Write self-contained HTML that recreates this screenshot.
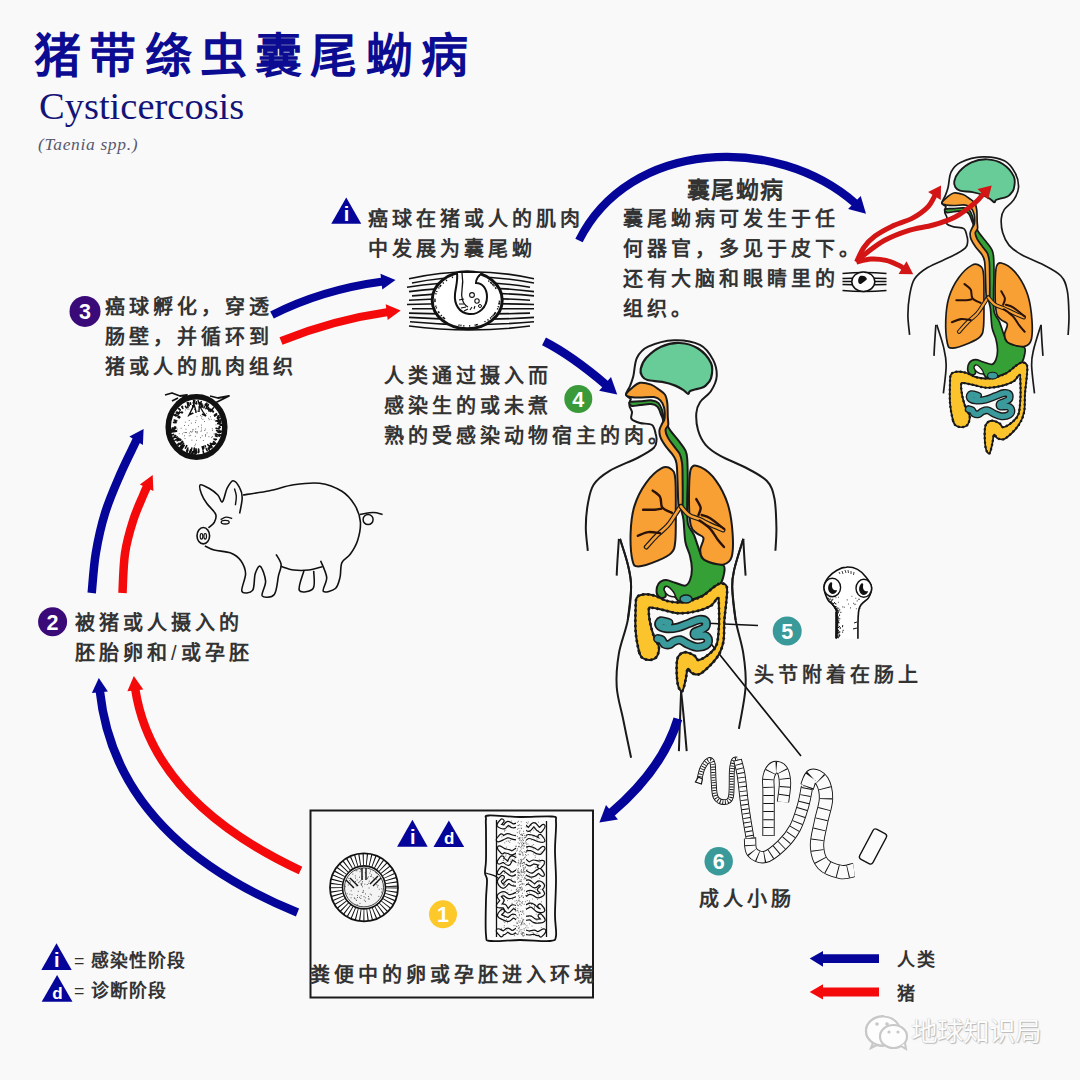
<!DOCTYPE html>
<html lang="zh-CN"><head><meta charset="utf-8">
<style>
html,body{margin:0;padding:0;}
body{width:1080px;height:1080px;background:#f9f9f9;position:relative;overflow:hidden;font-family:"Liberation Sans",sans-serif;}
.t{position:absolute;white-space:nowrap;color:#333;font-weight:700;font-size:20px;letter-spacing:4px;line-height:30px;}
#title{position:absolute;left:34px;top:25.5px;font-size:47px;font-weight:700;color:#0c0c92;letter-spacing:8.3px;line-height:60px;white-space:nowrap;}
#en{position:absolute;left:39px;top:86px;font-family:"Liberation Serif",serif;font-size:38.5px;color:#141478;line-height:40px;white-space:nowrap;}
#sp{position:absolute;left:38px;top:133.5px;font-family:"Liberation Serif",serif;font-style:italic;font-size:17.5px;letter-spacing:0.65px;color:#585a70;line-height:20px;white-space:nowrap;}
svg{position:absolute;left:0;top:0;}
</style></head><body>
<svg width="1080" height="1080" viewBox="0 0 1080 1080">
<defs><g id="htop"><path d="M587.8 550.8C587.5 546.9 585.8 535.3 585.8 527.5C585.8 519.7 586.5 511.3 587.8 504.2C589.1 497.1 590 490.2 593.6 484.7C597.2 479.2 601.8 475.6 609.2 471.1C616.7 466.6 630.8 461.4 638.3 457.5C645.8 453.6 650.9 450.7 653.9 447.8C656.9 444.9 656.2 442.4 656.5 440C656.8 437.6 656.4 436.2 655.6 433.7C654.9 431.2 654.6 426.8 652 425C649.4 423.2 643.4 424 640 423C636.6 422 632.8 420.7 631.5 418.9C630.2 417.1 632.3 414.1 632 412C631.7 409.9 629.8 407.8 629.5 406C629.2 404.2 629.8 402.2 630 401C630.2 399.8 631.3 399.5 630.6 398.5C629.9 397.5 626 396.9 625.9 394.8C625.8 392.7 628.8 389.1 630 386C631.2 382.9 632.1 381 633.3 376.3C634.5 371.6 634.5 362.7 637 357.8C639.5 352.9 641.9 349.6 648.1 346.7C654.3 343.8 665.4 340.5 674 340.2C682.6 339.9 693.5 341.6 700 344.8C706.5 348 710.2 354.4 713 359.6C715.8 364.9 717 371.1 716.7 376.3C716.4 381.5 713.8 386.7 711 391C708.2 395.3 702.5 398.5 700 402.2C697.5 405.9 696.6 408.7 696.3 413.3C696 417.9 696.5 424.8 698 430C699.5 435.2 701.9 440.5 705.6 444.8C709.3 449.1 713.9 452.2 720.4 455.9C726.9 459.6 736.7 462.9 744.4 467C752.1 471.1 761.7 475.6 766.7 480.8C771.7 486 772.8 490.5 774.4 498.3C776 506.1 776.2 518.8 776.4 527.5C776.6 536.2 775.6 546.9 775.4 550.8" fill="none" stroke="#1a1a1a" stroke-width="2"/>
<path d="M640.7 368.9C641.4 365.9 642.9 361.5 646.3 357.8C649.7 354.1 655.5 349.2 661.1 346.7C666.7 344.2 673.4 342.7 679.6 343C685.8 343.3 692.9 345.1 698.1 348.5C703.4 351.9 708.9 358.4 711.1 363.3C713.3 368.2 712 374.4 711.1 378.1C710.2 381.8 707.5 383.9 705.6 385.6C703.8 387.3 701.7 387.7 700 388.3C698.3 388.9 697.3 388.8 695.6 389.3C693.9 389.8 691.2 390.3 690 391.1C688.8 391.9 689.2 394 688.1 393.9C687 393.8 685.6 391.6 683.5 390.2C681.4 388.8 678.8 387 675.2 385.6C671.7 384.2 666.8 382.8 662.2 381.9C657.6 381 650.8 381 647.4 380C644 379 643.1 377.9 642 376C640.9 374.1 640 371.9 640.7 368.9Z" fill="#68cc98" stroke="#1a1a1a" stroke-width="2.2"/>
<path d="M629.6 402C630.9 401.2 636.3 401.6 640 401.3C643.7 401 648.9 400.1 652 400.4C655.1 400.7 656.8 401.4 658.5 403.1C660.2 404.8 661.3 408 662.2 410.6C663.1 413.2 663 416.7 663.8 419C664.6 421.3 665.8 422.4 666.9 424.4C668 426.4 668.6 428.1 670.6 430.9C672.6 433.7 676.4 437.9 678.9 441.1C681.4 444.4 684 447.5 685.4 450.4C686.8 453.3 686.8 453.8 687.2 458.7C687.6 463.6 687.7 473.1 687.7 480C687.7 486.9 687.2 492.7 687.2 500C687.2 507.3 686.8 517.8 687.9 523.6C689 529.4 692 530.1 694 535C696 539.9 698.7 549.1 700.2 553.1C701.7 557.1 701 557.1 703 558.7C705 560.4 708.6 561.9 712 563C715.4 564.1 721.2 563.7 723.3 565.2C725.3 566.7 724.8 568.9 724.3 572C723.8 575.1 722.6 580.5 720.6 583.7C718.6 586.9 716.4 588.6 712.2 591.1C708 593.6 701 596.8 695.6 598.5C690.2 600.2 683.2 601.6 679.8 601.3C676.4 601 676.9 598.4 675.2 596.7C673.5 595 671.2 592 669.6 591.1C668 590.2 666.6 590.2 665.9 591.1C665.2 592 666.4 595.6 665.5 596.7C664.6 597.8 661.9 598.2 660.4 597.6C658.9 597 657 595.3 656.7 593C656.4 590.7 657 585.9 658.5 583.7C660 581.5 663.1 580.1 665.9 580C668.7 579.9 672 581.9 675.2 582.8C678.5 583.7 682.9 586.1 685.4 585.6C687.9 585.1 688.9 582.8 690 580C691.1 577.2 691.9 572.9 691.9 568.9C691.9 564.9 691.1 560.4 690 555.9C688.9 551.4 686.5 548 685.4 542C684.3 536 684.2 525.7 683.5 520C682.8 514.3 681.6 513 681 508C680.4 503 680.2 494.7 680 490C679.8 485.3 680.1 484.4 680 480C679.9 475.6 679.9 467.6 679.5 463.3C679.1 459 678.8 457.2 677.5 454.1C676.2 451 674 447.7 672 444.8C670 441.9 667.3 439 665.6 436.5C663.9 434 662.4 432.6 662 430C661.6 427.4 663.2 423.2 663.1 420.7C663 418.2 662.2 417.5 661.3 415.2C660.4 412.9 659.3 408.8 657.6 406.9C655.9 405 654 404.4 651.1 404.1C648.2 403.8 643.2 404.7 640 405C636.8 405.3 633.7 406.5 632 406C630.3 405.5 628.3 402.8 629.6 402Z" fill="#35a035" stroke="#1a1a1a" stroke-width="2"/>
<path d="M626 394.5C626.2 393 629.7 389.9 632 388C634.3 386.1 636.8 383.4 640 382.8C643.2 382.2 648 383.5 651.1 384.6C654.2 385.7 656.2 387.6 658.5 389.3C660.8 391 663.5 392.5 665 394.8C666.5 397.1 666.8 399.4 667.3 403.1C667.8 406.8 667.6 413.4 667.8 417C667.9 420.6 668.6 422.8 668.2 425C667.8 427.2 665.6 427.9 665.5 430C665.4 432.1 666.3 434.6 667.8 437.4C669.3 440.2 672.3 443.9 674.3 446.7C676.3 449.5 678.5 451.3 679.8 454.1C681.1 456.9 681.6 459 682.1 463.3C682.6 467.6 682.5 472.9 682.6 480C682.7 487.1 682.9 501.3 682.5 506C682.1 510.7 681.2 508 680.5 508C679.8 508 679 510.7 678.5 506C678 501.3 677.8 487.1 677.5 480C677.2 472.9 677.2 467.3 676.5 463.3C675.8 459.3 675.2 458.7 673.5 455.9C671.8 453.1 668.2 449.8 666 446.7C663.8 443.6 661.6 440.2 660.5 437.4C659.4 434.6 659.2 432.3 659.5 430C659.8 427.7 661.4 425.4 662.2 423.5C663 421.6 664.2 421.5 664.5 418.9C664.8 416.3 664.8 410.9 664.1 407.8C663.4 404.7 662.1 402.2 660.4 400.4C658.7 398.6 657.3 397.6 653.9 397.1C650.5 396.6 643.8 397.6 640 397.6C636.2 397.6 633.3 397.5 631 397C628.7 396.5 625.8 396 626 394.5Z" fill="#f9a034" stroke="#1a1a1a" stroke-width="2"/>
<path d="M671.4 469.2C669.1 467.4 665.9 465.9 661.7 468.2C657.5 470.5 650.7 476.5 646.1 482.8C641.5 489.1 637 497.7 634.4 506.1C631.8 514.5 630.9 524.2 630.6 533.3C630.3 542.4 631.2 555.1 632.5 560.6C633.8 566.1 634.1 566.4 638.3 566.4C642.5 566.4 652.3 562.9 657.8 560.6C663.3 558.3 668.5 556 671.4 552.8C674.3 549.5 674.6 548.2 675.3 541.1C676 534 675.8 520.4 675.8 510C675.8 499.6 676 485.7 675.3 478.9C674.6 472.1 673.7 471 671.4 469.2Z" fill="#f9a034" stroke="#1a1a1a" stroke-width="2"/>
<path d="M690.8 469.2C692.7 463.7 696.4 465.3 700.6 467.2C704.8 469.1 711.6 474.6 716.1 480.8C720.6 487 725 495.4 727.8 504.2C730.5 512.9 732 524.5 732.6 533.3C733.2 542 733.2 551.5 731.7 556.7C730.2 561.9 727.2 563.4 723.9 564.4C720.6 565.4 715.5 564 712 563C708.5 562 705 560.9 703 558.7C701 556.5 700.1 553.5 700.2 550C700.3 546.5 704.1 540.8 703.5 538C702.9 535.2 698.8 535.4 696.7 533.3C694.6 531.2 692.1 531.1 690.8 525.6C689.5 520.1 689 509.4 689 500C689 490.6 688.9 474.7 690.8 469.2Z" fill="#f9a034" stroke="#1a1a1a" stroke-width="2"/>
<path d="M680.4 506.5C679.5 507.9 677.1 511.8 675 515C672.9 518.2 670.6 522.3 667.6 525.7C664.6 529.1 660.5 531.8 657 535.3C653.5 538.8 648.1 545 646.3 547" fill="none" stroke="#1a1a1a" stroke-width="5" stroke-linecap="round"/>
<path d="M680.4 506.5C679.5 507.9 677.1 511.8 675 515C672.9 518.2 670.6 522.3 667.6 525.7C664.6 529.1 660.5 531.8 657 535.3C653.5 538.8 648.1 545 646.3 547" fill="none" stroke="#f9a034" stroke-width="2.6" stroke-linecap="round"/>
<path d="M681 506.5C682.3 507.9 685.8 512.9 688.9 515C692 517.1 696 517.7 699.5 519.3C703 520.9 706.3 522.8 710.2 524.6C714.1 526.4 720.9 529.1 723 530" fill="none" stroke="#1a1a1a" stroke-width="5" stroke-linecap="round"/>
<path d="M681 506.5C682.3 507.9 685.8 512.9 688.9 515C692 517.1 696 517.7 699.5 519.3C703 520.9 706.3 522.8 710.2 524.6C714.1 526.4 720.9 529.1 723 530" fill="none" stroke="#f9a034" stroke-width="2.6" stroke-linecap="round"/>
<path d="M652.7 490.6C653.9 491.7 658.5 494.2 660.1 497C661.7 499.8 660.3 505 662.3 507.6C664.3 510.2 670.3 512 671.9 512.9" fill="none" stroke="#2a1208" stroke-width="2.4" stroke-linecap="round"/>
<path d="M643.1 509.7C645 509.7 651.8 509.9 654.8 509.7C657.8 509.5 660.1 508.9 661.2 508.7" fill="none" stroke="#2a1208" stroke-width="2.4" stroke-linecap="round"/>
<path d="M637.8 535.8C639.6 535.2 644.7 532.5 648.4 532.1C652.1 531.7 658.1 532.9 660.1 533.1" fill="none" stroke="#2a1208" stroke-width="2.4" stroke-linecap="round"/>
<path d="M696.3 499.1C697 500.5 700.2 505 700.6 507.6C701 510.2 698.9 513.8 698.5 515" fill="none" stroke="#2a1208" stroke-width="2.4" stroke-linecap="round"/>
<path d="M701.7 515C703.1 515.5 706.5 515.9 710.2 518.2C713.9 520.5 721.7 527.1 724 528.9" fill="none" stroke="#2a1208" stroke-width="2.4" stroke-linecap="round"/>
<path d="M699.5 520.4C701.3 521.8 707.2 525.7 710.2 528.9C713.2 532.1 715.3 536.5 717.6 539.5C719.9 542.5 722.9 545.8 724 547" fill="none" stroke="#2a1208" stroke-width="2.4" stroke-linecap="round"/>
<path d="M638.9 651.1C637.8 646.7 636.1 638.1 635.6 631.1C635.1 624.1 635.4 614.5 635.6 608.9C635.8 603.3 635.4 600.2 636.7 597.8C638 595.4 640.3 594.8 643.3 594.4C646.2 594 650.3 594.5 654.4 595.6C658.5 596.7 663 600 667.8 601.1C672.6 602.2 677.8 602.9 683.3 602.2C688.8 601.5 695.9 599.3 701.1 596.7C706.3 594.1 711.1 588.9 714.4 586.7C717.7 584.5 719 583.3 721.1 583.3C723.2 583.3 725.8 584.3 726.7 586.7C727.6 589.1 727.1 592.2 726.7 597.8C726.3 603.3 725 612.6 724.4 620C723.8 627.4 724.6 635.9 723.3 642.2C722 648.5 720.4 652.6 716.7 657.8C713 663 705.2 670.7 701.1 673.3C697 675.9 694.4 674 692.2 673.3C690 672.6 688.9 667.8 687.8 668.9C686.7 670 686.5 676.3 685.6 680C684.7 683.7 683.5 690.4 682.2 691.1C680.9 691.8 678.7 688.9 677.8 684.4C676.9 679.9 676.5 669.2 676.7 664.4C676.9 659.6 677.4 657.6 678.9 655.6C680.4 653.6 683 652.2 685.6 652.2C688.2 652.2 692.2 654.3 694.4 655.6C696.6 656.9 696.3 660.4 698.9 660C701.5 659.6 707 655.9 710 653.3C713 650.7 715.2 648.8 716.7 644.4C718.2 640 718.5 633 718.9 626.7C719.3 620.4 719.1 611.5 718.9 606.7C718.7 601.9 719.1 598 717.8 597.8C716.5 597.6 714.6 603.4 711.1 605.6C707.6 607.8 702.1 609.8 696.7 611.1C691.3 612.4 684.5 613.5 678.9 613.3C673.3 613.1 667.8 610.9 663.3 610C658.8 609.1 654.6 608 652.2 607.8C649.8 607.6 649.3 606.5 648.9 608.9C648.5 611.3 649.1 617.4 650 622.2C650.9 627 652.9 633.7 654.4 637.8C655.9 641.9 658.5 643.6 658.9 646.7C659.3 649.9 658.2 654.5 656.7 656.7C655.2 658.9 652.4 659.8 650 660C647.6 660.2 644.1 659.3 642.2 657.8C640.4 656.3 640 655.5 638.9 651.1Z" fill="#fbc42c" stroke="#1a1a1a" stroke-width="2"/>
<path d="M638.9 651.1C637.8 646.7 636.1 638.1 635.6 631.1C635.1 624.1 635.4 614.5 635.6 608.9C635.8 603.3 635.4 600.2 636.7 597.8C638 595.4 640.3 594.8 643.3 594.4C646.2 594 650.3 594.5 654.4 595.6C658.5 596.7 663 600 667.8 601.1C672.6 602.2 677.8 602.9 683.3 602.2C688.8 601.5 695.9 599.3 701.1 596.7C706.3 594.1 711.1 588.9 714.4 586.7C717.7 584.5 719 583.3 721.1 583.3C723.2 583.3 725.8 584.3 726.7 586.7C727.6 589.1 727.1 592.2 726.7 597.8C726.3 603.3 725 612.6 724.4 620C723.8 627.4 724.6 635.9 723.3 642.2C722 648.5 720.4 652.6 716.7 657.8C713 663 705.2 670.7 701.1 673.3C697 675.9 694.4 674 692.2 673.3C690 672.6 688.9 667.8 687.8 668.9C686.7 670 686.5 676.3 685.6 680C684.7 683.7 683.5 690.4 682.2 691.1C680.9 691.8 678.7 688.9 677.8 684.4C676.9 679.9 676.5 669.2 676.7 664.4C676.9 659.6 677.4 657.6 678.9 655.6C680.4 653.6 683 652.2 685.6 652.2C688.2 652.2 692.2 654.3 694.4 655.6C696.6 656.9 696.3 660.4 698.9 660C701.5 659.6 707 655.9 710 653.3C713 650.7 715.2 648.8 716.7 644.4C718.2 640 718.5 633 718.9 626.7C719.3 620.4 719.1 611.5 718.9 606.7C718.7 601.9 719.1 598 717.8 597.8C716.5 597.6 714.6 603.4 711.1 605.6C707.6 607.8 702.1 609.8 696.7 611.1C691.3 612.4 684.5 613.5 678.9 613.3C673.3 613.1 667.8 610.9 663.3 610C658.8 609.1 654.6 608 652.2 607.8C649.8 607.6 649.3 606.5 648.9 608.9C648.5 611.3 649.1 617.4 650 622.2C650.9 627 652.9 633.7 654.4 637.8C655.9 641.9 658.5 643.6 658.9 646.7C659.3 649.9 658.2 654.5 656.7 656.7C655.2 658.9 652.4 659.8 650 660C647.6 660.2 644.1 659.3 642.2 657.8C640.4 656.3 640 655.5 638.9 651.1Z" fill="none" stroke="#1a1a1a" stroke-width="2.9" stroke-dasharray="0.1 5" stroke-linecap="round"/>
<path d="M664 590C664 586 667 585 670 588C673 591 676 595 675 597C671 597 666 595 664 590Z" fill="#fbfbfb" stroke="#1a1a1a" stroke-width="1.6"/>
<ellipse cx="686" cy="599" rx="6" ry="4" fill="#3a9a9c" stroke="#1a1a1a" stroke-width="1.4"/>
<path d="M668.8 622.8C667.5 622.5 662.6 620.5 661 620.9C659.4 621.3 658.3 623.9 659.1 625.1C659.9 626.3 662.5 627.9 665.6 628.3C668.7 628.7 673.9 628.3 677.9 627.4C681.9 626.5 685.9 624.4 689.5 623.1C693.1 621.8 696.6 619.9 699.3 619.6C702 619.3 704.7 620 705.7 621.2C706.7 622.4 706.5 625.5 705.4 627C704.3 628.5 701.1 629.4 699.3 630.3C697.5 631.2 695.4 631.3 694.7 632.2C694.1 633.1 693.8 635 695.4 635.5C697 636 702.2 634.8 704.4 635.5C706.5 636.2 708.1 638.4 708.3 640C708.5 641.6 707.6 644 705.7 645.2C703.8 646.4 699.7 647.3 696.7 647.1C693.7 646.9 690.3 645.1 687.6 643.9C684.9 642.7 682.8 640.4 680.5 640C678.2 639.6 675.9 640.5 674 641.3C672.1 642 671 644.1 669.4 644.5C667.8 644.9 665.6 644.6 664.3 643.9C663 643.1 662.8 640.9 661.7 640C660.6 639.1 658.4 638.9 657.8 638.7" fill="none" stroke="#1a1a1a" stroke-width="9.4" stroke-linecap="round" stroke-linejoin="round"/>
<path d="M668.8 622.8C667.5 622.5 662.6 620.5 661 620.9C659.4 621.3 658.3 623.9 659.1 625.1C659.9 626.3 662.5 627.9 665.6 628.3C668.7 628.7 673.9 628.3 677.9 627.4C681.9 626.5 685.9 624.4 689.5 623.1C693.1 621.8 696.6 619.9 699.3 619.6C702 619.3 704.7 620 705.7 621.2C706.7 622.4 706.5 625.5 705.4 627C704.3 628.5 701.1 629.4 699.3 630.3C697.5 631.2 695.4 631.3 694.7 632.2C694.1 633.1 693.8 635 695.4 635.5C697 636 702.2 634.8 704.4 635.5C706.5 636.2 708.1 638.4 708.3 640C708.5 641.6 707.6 644 705.7 645.2C703.8 646.4 699.7 647.3 696.7 647.1C693.7 646.9 690.3 645.1 687.6 643.9C684.9 642.7 682.8 640.4 680.5 640C678.2 639.6 675.9 640.5 674 641.3C672.1 642 671 644.1 669.4 644.5C667.8 644.9 665.6 644.6 664.3 643.9C663 643.1 662.8 640.9 661.7 640C660.6 639.1 658.4 638.9 657.8 638.7" fill="none" stroke="#3a9a9c" stroke-width="6.2" stroke-linecap="round" stroke-linejoin="round"/></g><g id="harms"><path d="M618.9 538.9C618.7 542.4 617.9 553.9 617.5 560C617.1 566.1 616.8 573 616.7 575.6" fill="none" stroke="#1a1a1a" stroke-width="2"/>
<path d="M743.3 538.9C743.5 542.4 744.1 553.9 744.5 560C744.9 566.1 745.4 573 745.6 575.6" fill="none" stroke="#1a1a1a" stroke-width="2"/>
<path d="M620 538.9C621.3 543.1 625.9 556.4 627.8 564.4C629.6 572.4 631.1 577.4 631.1 586.7C631.1 596 628.3 614.5 627.8 620" fill="none" stroke="#1a1a1a" stroke-width="2"/>
<path d="M743.3 538.9C741.8 543.9 736.2 560.9 734.4 568.9C732.5 576.9 732 578.2 732.2 586.7C732.4 595.2 735 614.5 735.6 620" fill="none" stroke="#1a1a1a" stroke-width="2"/></g></defs>
<circle cx="85" cy="311.4" r="15.5" fill="#3a0a78"/><text x="85" y="319.2" text-anchor="middle" font-family="Liberation Sans" font-weight="700" font-size="21.5" fill="#fff">3</text>
<circle cx="52.6" cy="621.7" r="14.5" fill="#3a0a78"/><text x="52.6" y="629.5" text-anchor="middle" font-family="Liberation Sans" font-weight="700" font-size="21.5" fill="#fff">2</text>
<circle cx="578.3" cy="399" r="14" fill="#3a9a3a"/><text x="578.3" y="406.8" text-anchor="middle" font-family="Liberation Sans" font-weight="700" font-size="21.5" fill="#fff">4</text>
<circle cx="787.2" cy="631" r="14.5" fill="#3a9a9a"/><text x="787.2" y="638.8" text-anchor="middle" font-family="Liberation Sans" font-weight="700" font-size="21.5" fill="#fff">5</text>
<circle cx="718.7" cy="861.2" r="14.2" fill="#3a9a9a"/><text x="718.7" y="869.0" text-anchor="middle" font-family="Liberation Sans" font-weight="700" font-size="21.5" fill="#fff">6</text>
<circle cx="443" cy="914.3" r="14" fill="#fdc82a"/><text x="443" y="922.0999999999999" text-anchor="middle" font-family="Liberation Sans" font-weight="700" font-size="21.5" fill="#fff">1</text>
<path d="M331.25 223.75L346.25 197.5L361.25 223.75Z" fill="#05059a"/><text x="346.55" y="220.95" text-anchor="middle" font-family="Liberation Sans" font-weight="700" font-size="20" fill="#fff">i</text>
<path d="M397.1 846.8L412.4 819.7L427.7 846.8Z" fill="#05059a"/><text x="412.7" y="844.0" text-anchor="middle" font-family="Liberation Sans" font-weight="700" font-size="20" fill="#fff">i</text>
<path d="M433.5 847.1L448.85 820.4L464.2 847.1Z" fill="#05059a"/><text x="449.15000000000003" y="844.3000000000001" text-anchor="middle" font-family="Liberation Sans" font-weight="700" font-size="17" fill="#fff">d</text>
<path d="M41.3 970L56.5 943.3L71.7 970Z" fill="#05059a"/><text x="56.8" y="967.2" text-anchor="middle" font-family="Liberation Sans" font-weight="700" font-size="20" fill="#fff">i</text>
<path d="M41.7 1001.7L57.1 975L72.5 1001.7Z" fill="#05059a"/><text x="57.4" y="998.9000000000001" text-anchor="middle" font-family="Liberation Sans" font-weight="700" font-size="17" fill="#fff">d</text>
<rect x="310.5" y="810.5" width="282.5" height="187" fill="none" stroke="#1a1a1a" stroke-width="2"/>
<path d="M879 954.2H823V951L809.7 958.6L823 966.7V963H879Z" fill="#05059a"/>
<path d="M879 987.5H823V984.3L809.7 992L823 999.6V996.4H879Z" fill="#f40a0a"/>

<path d="M409 278.7Q471 264.7 534 278.7" fill="none" stroke="#111" stroke-width="1.6"/>
<path d="M412 283.0Q471 271.0 534 283.0" fill="none" stroke="#111" stroke-width="1.6"/>
<path d="M407 287.3Q471 277.3 530 287.3" fill="none" stroke="#111" stroke-width="1.6"/>
<path d="M409 291.6Q471 283.6 534 291.6" fill="none" stroke="#111" stroke-width="1.6"/>
<path d="M412 295.9Q471 289.9 534 295.9" fill="none" stroke="#111" stroke-width="1.6"/>
<path d="M409 300.2Q471 296.2 530 300.2" fill="none" stroke="#111" stroke-width="1.6"/>
<path d="M407 304.5Q471 302.5 534 304.5" fill="none" stroke="#111" stroke-width="1.6"/>
<path d="M412 308.8Q471 308.8 534 308.8" fill="none" stroke="#111" stroke-width="1.6"/>
<path d="M409 313.1Q471 315.1 530 313.1" fill="none" stroke="#111" stroke-width="1.6"/>
<path d="M409 317.4Q471 321.4 534 317.4" fill="none" stroke="#111" stroke-width="1.6"/>
<path d="M410 321.7Q471 327.7 534 321.7" fill="none" stroke="#111" stroke-width="1.6"/>
<path d="M409 326.0Q471 334.0 530 326.0" fill="none" stroke="#111" stroke-width="1.6"/>
<ellipse cx="467.2" cy="300.2" rx="35" ry="28.5" fill="#fff" stroke="#111" stroke-width="3"/>
<path d="M435.1 306.3l1.5 -0.3M444.1 319.1l1.0 -1.1M488.5 320.5l-1.0 -1.1M489.3 280.5l-1.0 1.1M500.2 301.3l-1.5 -0.1M434.2 299.7l1.5 0.0M493.7 284.4l-1.2 0.9M496.0 313.1l-1.3 -0.7M436.1 291.3l1.4 0.5M442.7 282.5l1.1 1.0M499.1 306.9l-1.5 -0.4M443.3 318.5l1.1 -1.0M457.7 274.8l0.4 1.4M435.7 308.1l1.4 -0.4M462.0 274.0l0.2 1.5M485.4 322.3l-0.8 -1.3M469.7 326.6l-0.1 -1.5M492.5 317.2l-1.2 -1.0M434.2 299.2l1.5 0.1M496.5 288.0l-1.3 0.7M439.4 285.9l1.3 0.8M472.2 274.0l-0.2 1.5M442.6 317.9l1.1 -1.0M466.4 273.7l0.0 1.5M493.7 316.0l-1.2 -0.9M458.8 325.8l0.4 -1.5M452.1 276.6l0.7 1.3M462.2 274.0l0.2 1.5M438.1 312.7l1.3 -0.7M495.3 314.1l-1.3 -0.8M463.7 326.6l0.2 -1.5M475.4 325.9l-0.4 -1.5M460.8 326.2l0.3 -1.5M479.2 275.5l-0.5 1.4M477.5 325.4l-0.5 -1.4M492.1 282.8l-1.1 1.0M491.2 282.0l-1.1 1.0M498.3 309.1l-1.4 -0.5M443.3 318.5l1.1 -1.0M434.2 301.6l1.5 -0.1M499.8 304.1l-1.5 -0.2M437.8 312.3l1.3 -0.7M494.7 285.5l-1.2 0.8M492.4 317.4l-1.1 -1.0M440.1 285.1l1.2 0.9M491.1 318.5l-1.1 -1.0M438.2 287.6l1.3 0.7M493.3 284.0l-1.2 0.9M476.8 325.6l-0.4 -1.4M500.2 301.6l-1.5 -0.1M495.8 313.5l-1.3 -0.8M435.2 293.6l1.5 0.4M500.0 303.1l-1.5 -0.2M495.6 313.7l-1.3 -0.8M434.2 300.7l1.5 -0.0M496.2 287.6l-1.3 0.7M438.3 313.0l1.3 -0.7M440.7 316.0l1.2 -0.9M446.0 279.9l1.0 1.1M494.7 314.9l-1.2 -0.8" stroke="#111" stroke-width="1.2"/>
<path d="M457 273C458 280 456 286 455 294C454 304 459 313 469 314C479 315 487 307 487 297C487 288 482 283 476 283C476 279 478 276 482 273" fill="#fff" stroke="#111" stroke-width="2"/>
<path d="M462 273C463 279 463 284 462 290C461 296 462 304 468 307" fill="none" stroke="#111" stroke-width="1.3"/>
<circle cx="472" cy="295" r="2.4" fill="none" stroke="#111" stroke-width="1.1"/><circle cx="477" cy="301" r="2.2" fill="none" stroke="#111" stroke-width="1.1"/><circle cx="480" cy="306" r="1.5" fill="none" stroke="#111" stroke-width="1"/>
<path d="M459 300l5 -1M459 304l5 0M461 308l5 -1M464 311l4 -2M470 310l2 -3M474 309l1 -3" stroke="#111" stroke-width="1.1"/>
<ellipse cx="196.5" cy="427" rx="28.3" ry="30.2" fill="#fff" stroke="#111" stroke-width="5.5"/>
<path d="M180.2 410.1l-1.6 -1.5M217.8 418.4l2.2 -0.8M217.6 431.1l2.3 0.4M182.6 406.9l-0.4 -0.6M176.5 431.2l-2.6 0.5M179.2 417.8l-1.1 -0.5M192.2 451.7l-0.6 3.3M208.9 447.6l0.5 0.7M181.8 412.8l-0.4 -0.4M210.5 411.4l0.6 -0.7M219.7 424.3l1.1 -0.1M217.7 421.4l1.8 -0.4M203.1 451.2l0.7 2.4M219.5 421.8l1.1 -0.2M183.6 443.3l-0.9 1.1M215.5 435.8l1.6 0.7M219.0 427.5l1.2 0.0M188.0 449.9l-0.9 2.3M187.9 448.0l-1.3 3.0M218.8 435.9l0.5 0.2M196.5 402.3l-0.0 -0.5M201.4 405.3l0.4 -1.6M216.0 428.2l0.9 0.0M215.9 421.0l1.9 -0.6M217.9 416.2l1.1 -0.5M183.2 445.3l-2.2 2.9M214.2 442.2l1.6 1.3M208.9 411.0l1.5 -1.8M214.0 439.0l1.4 0.9M214.7 416.1l2.0 -1.2M176.6 420.8l-1.5 -0.4M205.1 445.8l0.4 0.9M187.6 403.4l-0.3 -0.8M219.3 434.6l1.5 0.5M179.6 439.1l-2.5 1.7M206.4 406.8l0.6 -1.2M218.6 435.6l0.5 0.2M173.3 428.0l-1.2 0.0M193.8 401.9l-0.2 -1.7M201.2 406.6l0.3 -1.3M210.2 446.9l0.7 1.0M173.6 434.4l-3.6 1.1M217.7 423.6l1.5 -0.2M193.7 404.3l-0.1 -1.1M180.1 439.1l-1.8 1.3M220.2 425.2l1.7 -0.1M175.6 427.1l-1.1 0.0M193.3 451.2l-0.5 3.6M181.7 445.7l-2.4 2.8M188.9 404.6l-0.7 -1.9M181.7 445.2l-1.2 1.4M173.7 429.2l-3.1 0.3M190.0 451.3l-0.8 2.9M179.6 417.0l-1.7 -1.0M196.4 450.9l-0.0 2.2M205.6 405.3l0.9 -1.9M183.6 446.4l-2.0 2.9M206.4 407.4l1.0 -1.9M211.9 409.5l1.7 -1.8M217.4 420.8l1.5 -0.4M208.2 448.3l1.4 2.4M174.2 430.4l-3.2 0.5M194.0 405.8l-0.3 -2.0M176.9 415.4l-1.5 -0.8M180.2 409.9l-1.3 -1.3M192.9 406.7l-0.2 -0.8M175.7 435.6l-1.5 0.6M187.8 405.2l-0.2 -0.5M176.5 430.8l-1.0 0.2M210.4 443.4l0.6 0.6M203.3 446.4l0.6 1.7M180.3 443.1l-2.2 2.1M198.3 451.9l0.1 0.7M179.5 439.3l-2.0 1.3M213.9 443.3l0.9 0.8M218.1 432.3l0.7 0.2M176.5 420.8l-2.3 -0.7M218.8 420.6l1.3 -0.3M205.1 405.1l0.5 -1.1M210.3 445.3l1.1 1.3M219.5 420.3l1.7 -0.5M182.6 447.1l-0.5 0.7M213.6 441.6l1.3 1.1M210.6 445.3l1.5 1.8M181.4 442.9l-1.2 1.2M190.4 451.5l-0.5 2.0M219.4 420.9l1.6 -0.4M195.0 452.4l-0.1 2.3M178.6 438.2l-3.8 2.2M175.9 428.1l-2.3 0.1M212.5 443.4l1.0 1.0M190.4 450.5l-1.0 3.5M218.2 428.9l1.0 0.1M217.6 417.3l0.9 -0.4M194.3 448.1l-0.4 3.9M190.6 449.7l-0.7 2.3M182.9 408.4l-1.2 -1.6M213.3 443.4l0.8 0.7M176.1 422.4l-1.6 -0.3M175.4 422.7l-1.8 -0.3M195.8 403.6l-0.0 -0.6M196.2 449.8l-0.1 3.6M213.1 412.0l0.4 -0.3M200.3 404.7l0.3 -1.6M190.7 404.2l-0.4 -1.4M214.4 415.2l1.1 -0.7M208.6 409.8l0.7 -0.9M205.9 408.7l1.0 -1.9M189.2 405.7l-0.4 -1.0M201.0 402.4l0.2 -0.8M174.9 430.1l-2.5 0.3M186.8 445.6l-1.4 2.6M203.9 407.7l0.4 -0.9M206.2 404.8l0.8 -1.7M218.9 430.9l2.4 0.4M219.1 426.7l0.6 -0.0M207.6 408.9l1.0 -1.5M218.1 419.9l0.7 -0.2M190.3 451.2l-0.4 1.3M180.2 412.5l-0.7 -0.6M182.5 412.6l-0.5 -0.5M182.3 441.4l-0.8 0.8M176.2 416.0l-2.6 -1.3M210.7 443.9l0.8 0.9M179.1 413.5l-2.2 -1.6M182.8 441.8l-2.4 2.4M209.4 446.2l1.0 1.3M215.0 414.6l1.5 -0.9M194.7 450.2l-0.1 1.6M196.6 403.9l0.0 -0.8M198.6 449.2l0.3 2.9M206.2 448.7l1.0 2.0M215.8 439.2l0.6 0.3M212.1 443.6l0.7 0.7M211.9 411.0l0.8 -0.8M202.1 407.2l0.6 -1.9M215.4 434.0l2.3 0.8M188.0 407.4l-0.3 -0.7M218.6 422.9l2.1 -0.4M210.7 445.2l0.8 1.0M198.5 449.1l0.2 2.5M184.3 445.3l-0.8 1.1M207.4 406.3l1.0 -1.8M175.2 437.1l-2.5 1.1M178.2 414.2l-2.0 -1.3M180.9 439.8l-0.8 0.6M202.2 446.8l0.9 2.9M173.8 429.9l-0.8 0.1M173.5 431.6l-2.9 0.5M177.2 436.9l-1.1 0.5M207.8 444.6l0.8 1.1M178.9 443.4l-1.1 1.0M196.0 448.9l-0.0 1.3M191.8 448.1l-0.6 2.4M219.6 432.0l1.2 0.2M217.3 417.9l1.7 -0.7M173.2 431.5l-1.2 0.2M186.4 407.9l-0.9 -1.6M193.9 405.9l-0.1 -0.9M216.6 430.4l0.6 0.1" stroke="#111" stroke-width="1.6" stroke-linecap="round"/>
<path d="M179.7 439.1h0.8M188.8 435.8h0.8M185.6 429.2h0.8M194.5 409.3h0.8M201.8 435.8h0.8M186.9 409.0h0.8M188.1 416.1h0.8M198.1 426.7h0.8M213.7 433.9h0.8M192.7 429.4h0.8M176.6 420.7h0.8M184.2 425.5h0.8M201.2 430.1h0.8M208.3 418.3h0.8M201.0 425.1h0.8M196.7 431.7h0.8M192.4 430.1h0.8M196.0 440.4h0.8M194.9 431.5h0.8M216.6 431.8h0.8M202.9 440.5h0.8M184.0 435.8h0.8M206.7 432.9h0.8M208.5 436.7h0.8M210.8 419.3h0.8M202.5 419.4h0.8M211.8 428.7h0.8M180.7 428.3h0.8M184.6 438.6h0.8M193.4 407.2h0.8M191.5 440.2h0.8M201.1 418.2h0.8M205.3 434.8h0.8M212.2 436.7h0.8M201.5 416.4h0.8M200.6 431.4h0.8M196.7 433.1h0.8M182.1 433.9h0.8M196.7 432.2h0.8M195.1 422.6h0.8M200.0 437.7h0.8M191.9 431.7h0.8M186.2 432.6h0.8M196.7 411.3h0.8M210.0 416.7h0.8M197.5 411.1h0.8M178.8 433.7h0.8M185.0 410.0h0.8M194.1 409.6h0.8M194.4 445.8h0.8M190.9 432.1h0.8M204.4 430.5h0.8M195.1 444.2h0.8M195.3 432.2h0.8M197.9 411.4h0.8M201.2 427.8h0.8M205.1 436.2h0.8M209.5 411.2h0.8M188.8 420.5h0.8M185.1 432.5h0.8M195.4 429.1h0.8M180.0 417.3h0.8M195.6 420.6h0.8M188.0 425.4h0.8M193.0 413.4h0.8M213.8 419.9h0.8M205.2 435.0h0.8M208.8 419.7h0.8M183.7 432.6h0.8M198.7 406.8h0.8M176.3 422.8h0.8M190.9 423.2h0.8M201.8 414.5h0.8M216.2 433.7h0.8M212.1 430.3h0.8M176.9 429.2h0.8M188.9 433.1h0.8M194.9 436.3h0.8M184.9 422.2h0.8M196.6 416.7h0.8M190.3 435.4h0.8M215.6 424.9h0.8M206.2 413.6h0.8M190.0 431.6h0.8M203.7 414.2h0.8M204.9 429.0h0.8M211.0 437.3h0.8M204.1 421.5h0.8M200.0 415.6h0.8M188.5 409.2h0.8" stroke="#444" stroke-width="0.9"/>
<path d="M165 395L172 393L180 396L187 395L181 399L176 403M178 398L172 401M210 396L218 398L229 396L221 400L215 403" stroke="#111" stroke-width="1.8" fill="none" stroke-linejoin="round"/>
<path d="M195 400C194 405 192 410 189 415L193 413M198 400C199 406 202 411 206 416L202 414M193 402C195 407 196 410 196 413M200 402C199 406 199 409 199 412" stroke="#111" stroke-width="1.4" fill="none"/>
<path d="M242.8 495C247.3 494.3 261.1 492.4 269.6 490.7C278.1 489 285.4 486 293.7 484.8C302 483.6 311.6 482.3 319.6 483.3C327.7 484.4 336 487.7 341.9 491.3C347.7 494.9 351.7 500.1 354.8 505.2C357.9 510.3 359.9 516 360.4 521.9C360.8 527.7 359.3 535 357.6 540.4C355.9 545.8 352.8 550.6 350.2 554.3C347.6 558 343.5 558.7 341.9 562.6C340.2 566.5 341.1 573.1 340 577.4C338.9 581.7 338.1 586.2 335.4 588.5C332.6 590.8 324.8 593.1 323.3 591.3C321.9 589.4 327.1 582.5 326.7 577.4C326.2 572.3 321.6 563.5 320.6 560.7" fill="none" stroke="#111" stroke-width="1.6" stroke-linejoin="round"/>
<path d="M280.7 566.3C282.9 566.9 289.1 569.4 293.7 570C298.3 570.6 303.7 570.6 308.5 570C313.3 569.4 320.1 567.2 322.4 566.7" fill="none" stroke="#111" stroke-width="1.6"/>
<path d="M303.9 570.9C303.1 574.2 297.7 587.4 299.3 590.4C300.8 593.3 310.7 591.8 313.1 588.5C315.6 585.3 313.6 573.9 313.7 570.9" fill="none" stroke="#111" stroke-width="1.6"/>
<path d="M276.1 554.3C276.9 556 280.7 560.9 281.1 564.4C281.5 568 279.7 570.6 278.5 575.6C277.4 580.6 277 591 274.3 594.4C271.5 597.8 263.7 598.1 262.2 595.9C260.8 593.7 265.9 586 265.6 581.1C265.2 576.2 262.1 567.5 260.4 566.3C258.6 565.1 256.5 569.7 255.2 573.7C253.9 577.7 254.8 587.4 252.6 590.4C250.4 593.3 243 594.1 241.9 591.3C240.7 588.5 245.7 578.8 245.6 573.7C245.4 568.6 243.4 564.2 240.9 560.7C238.5 557.3 235.2 554.8 230.7 553C226.3 551.2 218.4 551.2 214.1 550C209.8 548.8 206.4 546.6 204.8 545.9" fill="none" stroke="#111" stroke-width="1.6" stroke-linejoin="round"/>
<path d="M208.5 527.8C209.5 526.9 213.3 524.5 214.4 522.2C215.6 519.9 216.9 517.2 215.6 514.1C214.3 510.9 209 506.7 206.7 503.3C204.3 500 202.6 497.2 201.5 494.1C200.4 491 198.9 485.7 200.2 484.8C201.5 483.9 206.5 486.8 209.4 488.5C212.4 490.2 215.6 492.8 217.8 495C219.9 497.2 220.9 502.9 222.4 501.9C224 500.8 225.3 492 227 488.5C228.8 485 230.9 480.9 233 480.7C235.1 480.6 238.1 484.8 239.6 487.6C241.2 490.4 242.2 493.5 242.2 497.8C242.2 502.1 240.1 510.9 239.6 513.5" fill="none" stroke="#111" stroke-width="1.6" stroke-linejoin="round"/>
<path d="M234.4 488.5C234.8 489.8 236.1 493.1 236.3 495.9C236.5 498.7 235.5 503.6 235.4 505.2" fill="none" stroke="#111" stroke-width="1.4"/>
<ellipse cx="203.3" cy="535.7" rx="6.3" ry="8.2" fill="none" stroke="#111" stroke-width="1.6"/>
<ellipse cx="201.5" cy="536.3" rx="1.3" ry="2.8" fill="none" stroke="#111" stroke-width="1.2"/><ellipse cx="205.2" cy="536.3" rx="1.3" ry="2.8" fill="none" stroke="#111" stroke-width="1.2"/>
<ellipse cx="225.2" cy="522.2" rx="4" ry="1.8" fill="none" stroke="#111" stroke-width="1.3"/>
<path d="M220.6 519.6C221.5 519.2 224.2 517.4 226.1 517.2C228.1 517 231.2 518.3 232.2 518.5" fill="none" stroke="#111" stroke-width="1.3"/>
<path d="M360 514.4C362.2 514.1 369.6 512.6 373.3 512.6C377.1 512.6 381 514.1 382.6 514.4" fill="none" stroke="#111" stroke-width="1.5"/>
<circle cx="368.1" cy="519.6" r="5" fill="none" stroke="#111" stroke-width="1.5"/>
<path d="M842.5 273.5Q864 271.375 886.5 273.5" fill="none" stroke="#111" stroke-width="1.5"/>
<path d="M842.5 278.5Q864 277.625 886.5 278.5" fill="none" stroke="#111" stroke-width="1.5"/>
<path d="M842.5 281.5Q864 281.375 886.5 281.5" fill="none" stroke="#111" stroke-width="1.5"/>
<path d="M842.5 284.5Q864 285.125 886.5 284.5" fill="none" stroke="#111" stroke-width="1.5"/>
<path d="M842.5 290.5Q864 292.625 886.5 290.5" fill="none" stroke="#111" stroke-width="1.5"/>
<ellipse cx="863.3" cy="281.7" rx="11.5" ry="9.8" fill="#fff" stroke="#111" stroke-width="1.5"/>
<path d="M860 276C857 279 858 285 861 284C863 282 866 281 867 279C866 276 863 275 860 276Z" fill="#111"/>
<path d="M836.2 638.7C836.2 634 837.7 616.9 836.2 610.4C834.8 603.8 829.6 603.3 827.6 599.3C825.6 595.4 823.9 590.4 824 586.8C824.2 583.1 826.2 580.1 828.4 577.3C830.5 574.6 834 571.9 837 570.2C840 568.5 843.1 567.2 846.5 567.1C849.9 566.9 854.2 567.7 857.5 569.4C860.8 571.1 863.8 574.3 866.1 577.3C868.5 580.3 871.3 584.1 871.6 587.5C872 590.9 870.6 594.2 868.5 597.8C866.4 601.3 860.8 602 859.1 608.8C857.3 615.6 858.1 633.7 857.9 638.7" fill="#fff" stroke="#111" stroke-width="1.6"/>
<ellipse cx="832.3" cy="587.5" rx="8.3" ry="9.3" fill="#fff" stroke="#111" stroke-width="1.4"/><ellipse cx="863.8" cy="588.3" rx="7.8" ry="9" fill="#fff" stroke="#111" stroke-width="1.4"/>
<path d="M831 582C827 585 827 592 832 594C835 594 837 592 837 590C834 591 832 589 832 586C832 584 833 583 831 582Z" fill="#111"/><path d="M862 583C858 586 858 593 863 595C866 595 868 593 868 591C865 592 863 590 863 587C863 585 864 584 862 583Z" fill="#111"/>
<path d="M835.7 608.4h0.9M839.3 632.0h0.9M832.3 605.4h0.9M834.6 607.0h0.9M838.1 627.4h0.9M835.0 606.6h0.9M839.3 609.8h0.9M837.9 622.3h0.9M827.3 598.6h0.9M837.4 632.9h0.9M837.6 630.4h0.9M840.1 627.8h0.9M836.7 636.0h0.9M837.8 632.0h0.9M836.3 617.5h0.9M839.0 615.2h0.9M837.9 612.6h0.9M831.0 602.7h0.9M838.1 630.8h0.9M842.3 625.6h0.9M836.2 620.2h0.9M837.4 625.1h0.9M836.9 615.7h0.9M837.5 618.9h0.9M837.1 608.1h0.9M837.0 613.8h0.9M832.2 603.2h0.9M833.8 607.4h0.9M833.0 605.8h0.9M836.8 624.0h0.9M838.9 636.1h0.9M838.4 635.3h0.9M830.4 599.7h0.9M839.3 631.5h0.9M837.4 623.6h0.9M838.1 632.7h0.9M836.7 633.4h0.9M837.6 632.1h0.9M836.4 613.0h0.9M837.4 636.9h0.9M836.5 622.1h0.9M837.7 622.7h0.9M837.9 621.2h0.9M837.3 627.1h0.9M836.6 611.7h0.9M837.5 625.4h0.9M830.1 602.5h0.9M837.0 623.7h0.9M836.8 620.2h0.9M836.4 615.6h0.9M836.3 611.7h0.9M836.3 637.9h0.9M830.8 602.9h0.9M837.9 621.9h0.9M831.0 601.1h0.9M836.6 631.4h0.9M828.1 598.2h0.9M838.4 636.8h0.9M839.4 618.7h0.9M836.0 609.9h0.9M832.4 599.3h0.9M836.2 627.5h0.9M836.1 608.3h0.9M838.3 608.3h0.9M837.2 621.5h0.9M836.5 609.5h0.9M833.1 606.2h0.9M836.7 613.9h0.9M829.4 601.5h0.9M829.7 598.2h0.9M837.1 629.0h0.9M838.5 620.2h0.9M836.8 611.3h0.9M833.0 603.5h0.9M839.3 632.5h0.9M835.8 606.7h0.9M836.2 610.1h0.9M830.8 603.1h0.9M840.4 612.4h0.9M837.8 637.6h0.9M829.1 599.7h0.9M836.5 630.1h0.9M838.5 610.9h0.9M832.1 603.0h0.9M826.8 598.2h0.9M835.5 604.0h0.9M837.6 617.2h0.9M837.7 630.1h0.9M833.7 606.6h0.9M839.4 635.4h0.9M838.3 618.8h0.9M837.3 620.9h0.9M838.7 622.8h0.9M834.1 602.6h0.9M834.7 603.5h0.9M837.0 619.3h0.9M837.4 610.0h0.9M829.7 601.5h0.9M831.7 600.1h0.9M830.5 602.3h0.9M842.0 626.6h0.9M842.7 630.4h0.9M839.2 615.0h0.9M839.1 626.6h0.9M835.4 609.6h0.9M836.9 610.3h0.9M837.9 637.8h0.9M836.5 629.4h0.9M836.7 616.0h0.9M834.4 608.4h0.9M837.7 611.3h0.9M836.8 632.0h0.9M842.2 632.1h0.9M839.7 628.5h0.9M836.4 617.4h0.9M838.6 634.1h0.9M836.9 619.5h0.9M838.2 617.0h0.9M832.9 605.6h0.9M836.5 630.8h0.9M856.8 600.9h0.7M855.4 604.3h0.7M850.2 607.9h0.7M855.5 598.3h0.7M846.8 599.9h0.7M853.3 603.2h0.7M848.0 604.0h0.7M842.5 606.9h0.7M859.6 608.5h0.7M838.0 597.3h0.7M858.1 599.3h0.7M859.3 599.3h0.7M835.6 597.8h0.7M837.9 602.2h0.7M851.6 596.3h0.7M855.9 608.8h0.7M853.9 604.3h0.7M843.9 607.3h0.7" stroke="#111" stroke-width="1.1"/>
<path d="M836.5 612L836.5 638" stroke="#111" stroke-width="2.6"/>
<path d="M839 572l1 2M842 571l1 3M845 570l1 3M848 570l0.5 3M851 571l0 3M854 572l-0.5 3" stroke="#111" stroke-width="0.8"/>
<path d="M854 623l3 -1M853 629l4 -1" stroke="#111" stroke-width="1"/>
<path d="M702 623L758 625.5M705.6 637L801 756" stroke="#111" stroke-width="1.6" fill="none"/>
<path d="M699.4 779.7C699.9 777.8 700.9 771.7 702.4 768.5C703.9 765.3 706.8 761.2 708.5 760.4C710.2 759.5 711.8 760 712.6 763.4C713.5 766.8 713.1 775.1 713.6 780.7C714.1 786.3 713.9 793.4 715.6 797C717.3 800.6 721.2 802.1 723.8 802.1C726.3 802.1 729.5 802.2 730.9 797C732.2 791.8 731.4 776.7 731.9 770.6C732.4 764.5 733.1 762.2 734 760.4C734.9 758.6 736.9 759.9 737.5 759.8" fill="none" stroke="#111" stroke-width="5.8" stroke-linejoin="round"/>
<path d="M699.4 779.7C699.9 777.8 700.9 771.7 702.4 768.5C703.9 765.3 706.8 761.2 708.5 760.4C710.2 759.5 711.8 760 712.6 763.4C713.5 766.8 713.1 775.1 713.6 780.7C714.1 786.3 713.9 793.4 715.6 797C717.3 800.6 721.2 802.1 723.8 802.1C726.3 802.1 729.5 802.2 730.9 797C732.2 791.8 731.4 776.7 731.9 770.6C732.4 764.5 733.1 762.2 734 760.4C734.9 758.6 736.9 759.9 737.5 759.8" fill="none" stroke="#fbfbfb" stroke-width="4" stroke-linejoin="round"/>
<path d="M699.4 779.7C699.9 777.8 700.9 771.7 702.4 768.5C703.9 765.3 706.8 761.2 708.5 760.4C710.2 759.5 711.8 760 712.6 763.4C713.5 766.8 713.1 775.1 713.6 780.7C714.1 786.3 713.9 793.4 715.6 797C717.3 800.6 721.2 802.1 723.8 802.1C726.3 802.1 729.5 802.2 730.9 797C732.2 791.8 731.4 776.7 731.9 770.6C732.4 764.5 733.1 762.2 734 760.4C734.9 758.6 736.9 759.9 737.5 759.8" fill="none" stroke="#111" stroke-width="4" stroke-dasharray="0.9 1.7000000000000002"/>
<path d="M737.5 759.8C738.1 762.3 740 768.1 741.1 775C742.2 781.9 743.2 793.4 744.2 801.1C745.2 808.9 746.2 815.4 747.2 821.5C748.2 827.6 749.5 835.2 750 838" fill="none" stroke="#111" stroke-width="8.8" stroke-linejoin="round"/>
<path d="M737.5 759.8C738.1 762.3 740 768.1 741.1 775C742.2 781.9 743.2 793.4 744.2 801.1C745.2 808.9 746.2 815.4 747.2 821.5C748.2 827.6 749.5 835.2 750 838" fill="none" stroke="#fbfbfb" stroke-width="7" stroke-linejoin="round"/>
<path d="M737.5 759.8C738.1 762.3 740 768.1 741.1 775C742.2 781.9 743.2 793.4 744.2 801.1C745.2 808.9 746.2 815.4 747.2 821.5C748.2 827.6 749.5 835.2 750 838" fill="none" stroke="#111" stroke-width="7" stroke-dasharray="0.9 3.6"/>
<path d="M768.5 836C768.5 828.7 768.6 801.8 768.6 792C768.6 782.2 767.7 781.1 768.6 777C769.5 772.9 771.8 768.7 774 767.5C776.2 766.3 780.2 767.5 782 770C783.8 772.5 784.8 777.4 785 782.7C785.2 788 783.3 798.8 783 802" fill="none" stroke="#111" stroke-width="12.3" stroke-linejoin="round"/>
<path d="M768.5 836C768.5 828.7 768.6 801.8 768.6 792C768.6 782.2 767.7 781.1 768.6 777C769.5 772.9 771.8 768.7 774 767.5C776.2 766.3 780.2 767.5 782 770C783.8 772.5 784.8 777.4 785 782.7C785.2 788 783.3 798.8 783 802" fill="none" stroke="#fbfbfb" stroke-width="10.5" stroke-linejoin="round"/>
<path d="M768.5 836C768.5 828.7 768.6 801.8 768.6 792C768.6 782.2 767.7 781.1 768.6 777C769.5 772.9 771.8 768.7 774 767.5C776.2 766.3 780.2 767.5 782 770C783.8 772.5 784.8 777.4 785 782.7C785.2 788 783.3 798.8 783 802" fill="none" stroke="#111" stroke-width="10.5" stroke-dasharray="0.9 7.1"/>
<path d="M750 838C750.3 840.3 749.5 848.8 752 852C754.5 855.2 760 858.2 765 857C770 855.8 777 849.8 782 845C787 840.2 791.5 834.5 795 828C798.5 821.5 801 812.8 803 806C805 799.2 806.3 790.2 807 787" fill="none" stroke="#111" stroke-width="12.3" stroke-linejoin="round"/>
<path d="M750 838C750.3 840.3 749.5 848.8 752 852C754.5 855.2 760 858.2 765 857C770 855.8 777 849.8 782 845C787 840.2 791.5 834.5 795 828C798.5 821.5 801 812.8 803 806C805 799.2 806.3 790.2 807 787" fill="none" stroke="#fbfbfb" stroke-width="10.5" stroke-linejoin="round"/>
<path d="M750 838C750.3 840.3 749.5 848.8 752 852C754.5 855.2 760 858.2 765 857C770 855.8 777 849.8 782 845C787 840.2 791.5 834.5 795 828C798.5 821.5 801 812.8 803 806C805 799.2 806.3 790.2 807 787" fill="none" stroke="#111" stroke-width="10.5" stroke-dasharray="0.9 6.1"/>
<path d="M807 787C807.8 785.2 809.5 777 812 776C814.5 775 819.7 777.2 822 781C824.3 784.8 826.2 792.2 826 799C825.8 805.8 822.5 814.2 821 822C819.5 829.8 816.7 839 817 846C817.3 853 819 859.7 823 864C827 868.3 835.8 871 841 872C846.2 873 851.8 870.3 854 870" fill="none" stroke="#111" stroke-width="14.3" stroke-linejoin="round"/>
<path d="M807 787C807.8 785.2 809.5 777 812 776C814.5 775 819.7 777.2 822 781C824.3 784.8 826.2 792.2 826 799C825.8 805.8 822.5 814.2 821 822C819.5 829.8 816.7 839 817 846C817.3 853 819 859.7 823 864C827 868.3 835.8 871 841 872C846.2 873 851.8 870.3 854 870" fill="none" stroke="#fbfbfb" stroke-width="12.5" stroke-linejoin="round"/>
<path d="M807 787C807.8 785.2 809.5 777 812 776C814.5 775 819.7 777.2 822 781C824.3 784.8 826.2 792.2 826 799C825.8 805.8 822.5 814.2 821 822C819.5 829.8 816.7 839 817 846C817.3 853 819 859.7 823 864C827 868.3 835.8 871 841 872C846.2 873 851.8 870.3 854 870" fill="none" stroke="#111" stroke-width="12.5" stroke-dasharray="0.9 9.6"/>
<path d="M695.4 782l3 -5l4 2l-1 5z" fill="#fbfbfb" stroke="#111" stroke-width="1.2"/>
<rect x="-7.5" y="-17" width="15" height="34" rx="3" transform="translate(873 846.5) rotate(28)" fill="#fbfbfb" stroke="#111" stroke-width="1.3"/>
<circle cx="364" cy="887.4" r="34" fill="#fff" stroke="#111" stroke-width="1.8"/>
<circle cx="364" cy="887.4" r="27.8" fill="none" stroke="#111" stroke-width="11.5" stroke-dasharray="1 2.6"/>
<circle cx="364" cy="887.4" r="21.5" fill="#f4f4f4" stroke="#111" stroke-width="1.6"/><circle cx="364" cy="887.4" r="19.5" fill="none" stroke="#111" stroke-width="0.8"/>
<path d="M365.1 901.4h0.9M353.9 898.2h0.9M360.6 883.9h0.9M381.3 888.8h0.9M363.5 896.6h0.9M377.0 887.0h0.9M370.8 876.2h0.9M359.3 881.7h0.9M352.3 874.1h0.9M347.8 885.0h0.9M361.7 883.2h0.9M364.8 872.8h0.9M362.9 890.6h0.9M372.7 877.6h0.9M360.5 869.9h0.9M359.9 869.6h0.9M350.6 897.8h0.9M346.7 893.7h0.9M368.3 883.3h0.9M369.8 894.1h0.9M376.3 884.7h0.9M356.7 880.0h0.9M352.2 886.9h0.9M355.4 899.1h0.9M348.4 878.3h0.9M356.4 870.7h0.9M375.7 872.6h0.9M360.4 880.6h0.9M376.0 873.1h0.9M375.8 879.3h0.9M362.0 878.9h0.9M371.1 874.9h0.9M363.0 892.1h0.9M375.5 872.4h0.9M378.4 896.4h0.9M357.8 891.3h0.9M359.5 903.4h0.9M366.8 884.5h0.9M361.0 884.7h0.9M361.8 876.7h0.9M377.8 874.6h0.9M345.0 886.8h0.9M362.1 892.3h0.9M361.3 885.4h0.9M367.9 898.9h0.9M358.2 882.6h0.9M381.1 892.1h0.9M356.7 904.5h0.9M373.3 880.3h0.9M350.7 890.8h0.9M354.9 875.9h0.9M350.1 882.0h0.9M376.6 882.5h0.9M349.4 894.2h0.9M364.8 897.8h0.9M377.6 885.5h0.9M362.1 886.8h0.9M351.5 894.8h0.9M378.8 889.3h0.9M360.9 884.0h0.9M355.0 878.1h0.9M359.1 877.2h0.9M359.6 871.7h0.9M368.6 888.0h0.9M355.6 870.7h0.9M363.9 900.2h0.9M355.0 881.5h0.9M357.0 895.4h0.9M354.0 898.1h0.9M360.4 898.5h0.9M364.4 884.3h0.9M349.2 880.5h0.9M360.7 895.7h0.9M367.1 878.6h0.9M368.8 899.0h0.9M362.1 881.7h0.9M359.2 897.3h0.9M370.3 876.5h0.9M368.8 881.2h0.9M356.1 900.5h0.9M373.6 879.0h0.9M365.0 893.9h0.9M355.8 885.9h0.9M370.1 871.1h0.9M368.1 896.6h0.9M369.4 873.1h0.9M367.9 876.9h0.9M371.0 894.9h0.9M366.7 877.9h0.9M357.0 897.5h0.9" stroke="#444" stroke-width="0.9"/>
<path d="M362 868v12M366 868v12M346 880l8 8M350 878l8 8M381 878l-8 8M378 876l-8 8" stroke="#111" stroke-width="1.4"/>
<path d="M489 815.5C494.7 815.2 509.5 816.8 520 817C530.5 817.2 546 815.7 552 816.5C558 817.3 555.5 816.4 556 822C556.5 827.6 555 840.3 555 850C555 859.7 556 869.2 556 880C556 890.8 555 905.7 555 915C555 924.3 556.8 931.7 556 936C555.2 940.3 556 940.3 550 941C544 941.7 529.8 940 520 940C510.2 940 496.7 941.8 491 941C485.3 940.2 486.8 941.8 486 935C485.2 928.2 485.8 909.2 486 900C486.2 890.8 487.2 884.5 487 880C486.8 875.5 485.2 876.3 485 873C484.8 869.7 485.8 867.2 486 860C486.2 852.8 486 836.8 486 830C486 823.2 485.5 821.4 486 819C486.5 816.6 483.3 815.8 489 815.5Z" fill="#fbfbfb" stroke="#111" stroke-width="1.8"/>
<path d="M496.5 820v117M546.5 821v116" stroke="#111" stroke-width="1.3"/>
<path d="M486 873C490 875 494 874 498 878" stroke="#111" stroke-width="1.2" fill="none"/>
<path d="M517 825C516.3 825.1 514.3 826.1 512.8 825.8C511.3 825.5 509.4 823.1 508 823.3C506.5 823.5 505.5 826.6 504 826.8C502.5 827.1 499.3 826 499 825C498.7 824.1 501.5 821.7 502 821M525 826.9C525.6 827.3 527.2 829.8 528.7 829.5C530.2 829.1 532.2 824.7 533.9 824.7C535.6 824.7 537.3 829.1 538.9 829.4C540.5 829.7 543.1 826.3 543.3 826.5C543.5 826.7 540.8 829.8 540.3 830.5M517 837.9C516.1 837.8 513.3 837.3 511.8 836.9C510.3 836.5 509.3 835.6 508 835.6C506.7 835.7 505.8 836.5 504.2 837.2C502.6 837.9 498.9 840.1 498.4 839.9C498 839.6 500.9 836.5 501.4 835.9M525 838.5C525.6 838.2 527.2 836.6 528.7 836.5C530.3 836.4 532.8 837.4 534.4 837.9C535.9 838.4 536.5 839.1 537.9 839.5C539.4 839.9 542.6 841 543 840.4C543.3 839.9 540.5 837.1 540 836.4M517 850C516.2 850.5 513.4 852.6 512 852.9C510.6 853.1 510 852 508.6 851.6C507.3 851.2 505.5 851.2 503.9 850.5C502.4 849.9 499.6 847.6 499.4 847.8C499.1 848 501.9 851.1 502.4 851.8M525 849.4C525.7 849.2 527.9 848.4 529.3 848.4C530.7 848.5 532 849 533.4 849.6C534.9 850.2 536.6 852.3 538.2 852.1C539.8 851.9 542.7 848.3 543 848.3C543.3 848.3 540.5 851.6 540 852.3M517 860.5C516.1 860.1 513.2 857.5 511.7 858C510.3 858.5 509.7 863 508.3 863.4C507 863.8 505 860.7 503.5 860.4C501.9 860.2 499.3 862.4 499.1 861.9C498.8 861.5 501.6 858.6 502.1 857.9M525 861C525.7 861.5 527.8 863.7 529.2 863.9C530.6 864.1 531.8 862.2 533.4 862C535 861.9 537.1 862.9 538.7 863C540.3 863.1 542.6 862 542.7 862.6C542.9 863.2 540.2 865.9 539.7 866.6M517 871.6C516.2 872.1 513.6 874.2 512 874.2C510.4 874.1 509 872.1 507.5 871.2C506 870.3 504.4 868.6 503 868.9C501.5 869.1 499.2 872.6 499 872.6C498.9 872.5 501.5 869.3 502 868.6M525 872.1C525.9 872.6 528.8 874.5 530.3 874.9C531.8 875.3 532.8 875 534.1 874.4C535.5 873.8 537.1 871.4 538.5 871.4C539.9 871.4 542.4 874.5 542.6 874.4C542.8 874.2 540.1 871 539.6 870.4M517 884.2C516.2 884.1 513.8 884.1 512.4 883.6C511 883.2 509.9 881.1 508.4 881.5C506.8 882 504.7 886.3 503.2 886.3C501.6 886.3 499.4 882.9 499.3 881.4C499.1 879.9 501.8 878.1 502.3 877.4M525 883C525.6 882.8 527.2 881.6 528.8 882C530.4 882.5 533 885.8 534.6 885.9C536.3 886.1 537.6 882.9 538.9 882.9C540.2 882.9 542.5 884.6 542.6 885.8C542.7 886.9 540.1 889.1 539.6 889.8M517 894.2C516.2 894.5 513.5 895.8 512 896.2C510.6 896.6 509.9 896.9 508.5 896.5C507.1 896.1 505.2 893.8 503.7 893.7C502.1 893.7 499.4 895.2 499.1 896.3C498.9 897.4 501.6 899.6 502.1 900.3M525 894.5C525.8 894.2 528.1 892.5 529.6 892.4C531.2 892.2 533 893.2 534.4 893.8C535.7 894.4 536.5 895.9 537.9 895.8C539.3 895.8 542.3 894.5 542.6 893.5C542.9 892.4 540.1 890.1 539.6 889.5M517 908.3C516.3 908 514.2 906.3 512.6 906.8C511.1 907.3 509.3 911.1 507.8 911C506.4 910.9 505.7 906.9 504.1 906.1C502.6 905.2 498.8 906.5 498.4 905.8C497.9 905.1 500.9 902.5 501.4 901.8M525 907.6C525.8 907.2 528.6 905.3 530 905.1C531.4 904.8 532 905.4 533.4 906.3C534.8 907.2 536.6 909.7 538.2 910.3C539.8 910.9 542.6 910.7 542.8 910C543.1 909.2 540.3 906.6 539.8 906M517 917.8C516.3 917.5 514.5 915.8 513.1 916.1C511.6 916.3 510 919.1 508.4 919.4C506.8 919.7 505.2 918.6 503.7 917.9C502.2 917.2 499.6 916.3 499.4 915.2C499.2 914.1 501.9 911.9 502.4 911.2M525 918.5C525.8 918.4 528.6 917.5 530.1 917.9C531.6 918.2 532.8 920 534.1 920.6C535.4 921.2 536.6 921.4 538.1 921.2C539.6 921.1 542.8 920.8 543.2 919.9C543.5 919.1 540.7 916.6 540.2 915.9M517 930.1C516.2 930.5 513.7 932.5 512.2 932.5C510.6 932.5 509.1 930 507.7 930.1C506.2 930.1 505.1 932.7 503.6 932.8C502 932.9 498.7 930.4 498.4 930.7C498 931 500.9 934 501.4 934.7M525 931.8C525.7 932 527.7 932.9 529.2 933C530.7 933.1 532.6 932.1 534 932.2C535.5 932.3 536.2 933.9 537.8 933.7C539.4 933.5 543.3 930.7 543.8 930.9C544.3 931.1 541.3 934.3 540.8 934.9" stroke="#111" stroke-width="5.2" fill="none" stroke-linecap="round" stroke-linejoin="round"/>
<path d="M517 825C516.3 825.1 514.3 826.1 512.8 825.8C511.3 825.5 509.4 823.1 508 823.3C506.5 823.5 505.5 826.6 504 826.8C502.5 827.1 499.3 826 499 825C498.7 824.1 501.5 821.7 502 821M525 826.9C525.6 827.3 527.2 829.8 528.7 829.5C530.2 829.1 532.2 824.7 533.9 824.7C535.6 824.7 537.3 829.1 538.9 829.4C540.5 829.7 543.1 826.3 543.3 826.5C543.5 826.7 540.8 829.8 540.3 830.5M517 837.9C516.1 837.8 513.3 837.3 511.8 836.9C510.3 836.5 509.3 835.6 508 835.6C506.7 835.7 505.8 836.5 504.2 837.2C502.6 837.9 498.9 840.1 498.4 839.9C498 839.6 500.9 836.5 501.4 835.9M525 838.5C525.6 838.2 527.2 836.6 528.7 836.5C530.3 836.4 532.8 837.4 534.4 837.9C535.9 838.4 536.5 839.1 537.9 839.5C539.4 839.9 542.6 841 543 840.4C543.3 839.9 540.5 837.1 540 836.4M517 850C516.2 850.5 513.4 852.6 512 852.9C510.6 853.1 510 852 508.6 851.6C507.3 851.2 505.5 851.2 503.9 850.5C502.4 849.9 499.6 847.6 499.4 847.8C499.1 848 501.9 851.1 502.4 851.8M525 849.4C525.7 849.2 527.9 848.4 529.3 848.4C530.7 848.5 532 849 533.4 849.6C534.9 850.2 536.6 852.3 538.2 852.1C539.8 851.9 542.7 848.3 543 848.3C543.3 848.3 540.5 851.6 540 852.3M517 860.5C516.1 860.1 513.2 857.5 511.7 858C510.3 858.5 509.7 863 508.3 863.4C507 863.8 505 860.7 503.5 860.4C501.9 860.2 499.3 862.4 499.1 861.9C498.8 861.5 501.6 858.6 502.1 857.9M525 861C525.7 861.5 527.8 863.7 529.2 863.9C530.6 864.1 531.8 862.2 533.4 862C535 861.9 537.1 862.9 538.7 863C540.3 863.1 542.6 862 542.7 862.6C542.9 863.2 540.2 865.9 539.7 866.6M517 871.6C516.2 872.1 513.6 874.2 512 874.2C510.4 874.1 509 872.1 507.5 871.2C506 870.3 504.4 868.6 503 868.9C501.5 869.1 499.2 872.6 499 872.6C498.9 872.5 501.5 869.3 502 868.6M525 872.1C525.9 872.6 528.8 874.5 530.3 874.9C531.8 875.3 532.8 875 534.1 874.4C535.5 873.8 537.1 871.4 538.5 871.4C539.9 871.4 542.4 874.5 542.6 874.4C542.8 874.2 540.1 871 539.6 870.4M517 884.2C516.2 884.1 513.8 884.1 512.4 883.6C511 883.2 509.9 881.1 508.4 881.5C506.8 882 504.7 886.3 503.2 886.3C501.6 886.3 499.4 882.9 499.3 881.4C499.1 879.9 501.8 878.1 502.3 877.4M525 883C525.6 882.8 527.2 881.6 528.8 882C530.4 882.5 533 885.8 534.6 885.9C536.3 886.1 537.6 882.9 538.9 882.9C540.2 882.9 542.5 884.6 542.6 885.8C542.7 886.9 540.1 889.1 539.6 889.8M517 894.2C516.2 894.5 513.5 895.8 512 896.2C510.6 896.6 509.9 896.9 508.5 896.5C507.1 896.1 505.2 893.8 503.7 893.7C502.1 893.7 499.4 895.2 499.1 896.3C498.9 897.4 501.6 899.6 502.1 900.3M525 894.5C525.8 894.2 528.1 892.5 529.6 892.4C531.2 892.2 533 893.2 534.4 893.8C535.7 894.4 536.5 895.9 537.9 895.8C539.3 895.8 542.3 894.5 542.6 893.5C542.9 892.4 540.1 890.1 539.6 889.5M517 908.3C516.3 908 514.2 906.3 512.6 906.8C511.1 907.3 509.3 911.1 507.8 911C506.4 910.9 505.7 906.9 504.1 906.1C502.6 905.2 498.8 906.5 498.4 905.8C497.9 905.1 500.9 902.5 501.4 901.8M525 907.6C525.8 907.2 528.6 905.3 530 905.1C531.4 904.8 532 905.4 533.4 906.3C534.8 907.2 536.6 909.7 538.2 910.3C539.8 910.9 542.6 910.7 542.8 910C543.1 909.2 540.3 906.6 539.8 906M517 917.8C516.3 917.5 514.5 915.8 513.1 916.1C511.6 916.3 510 919.1 508.4 919.4C506.8 919.7 505.2 918.6 503.7 917.9C502.2 917.2 499.6 916.3 499.4 915.2C499.2 914.1 501.9 911.9 502.4 911.2M525 918.5C525.8 918.4 528.6 917.5 530.1 917.9C531.6 918.2 532.8 920 534.1 920.6C535.4 921.2 536.6 921.4 538.1 921.2C539.6 921.1 542.8 920.8 543.2 919.9C543.5 919.1 540.7 916.6 540.2 915.9M517 930.1C516.2 930.5 513.7 932.5 512.2 932.5C510.6 932.5 509.1 930 507.7 930.1C506.2 930.1 505.1 932.7 503.6 932.8C502 932.9 498.7 930.4 498.4 930.7C498 931 500.9 934 501.4 934.7M525 931.8C525.7 932 527.7 932.9 529.2 933C530.7 933.1 532.6 932.1 534 932.2C535.5 932.3 536.2 933.9 537.8 933.7C539.4 933.5 543.3 930.7 543.8 930.9C544.3 931.1 541.3 934.3 540.8 934.9" stroke="#fbfbfb" stroke-width="2.8" fill="none" stroke-linecap="round" stroke-linejoin="round"/>
<rect x="516" y="821" width="10" height="115" fill="#fbfbfb"/>
<path d="M522.2 835.5h0.8M529.1 902.1h0.8M523.1 935.9h0.8M522.2 845.1h0.8M518.8 873.1h0.8M518.2 877.9h0.8M523.1 831.3h0.8M526.6 847.9h0.8M523.5 867.9h0.8M521.3 924.7h0.8M519.9 850.7h0.8M522.1 935.0h0.8M525.1 864.4h0.8M522.7 897.0h0.8M518.4 878.2h0.8M525.2 895.7h0.8M524.4 837.3h0.8M518.5 828.4h0.8M524.5 843.3h0.8M519.8 929.8h0.8M516.5 922.3h0.8M518.5 853.9h0.8M516.9 836.5h0.8M526.1 908.9h0.8M525.0 901.7h0.8M523.8 930.2h0.8M523.1 843.7h0.8M517.8 838.3h0.8M517.2 829.2h0.8M520.3 924.9h0.8M516.0 846.3h0.8M520.8 849.0h0.8M523.9 851.7h0.8M521.2 869.7h0.8M516.7 923.5h0.8M525.2 841.2h0.8M519.5 897.3h0.8M522.2 933.1h0.8M522.6 855.5h0.8M526.2 822.5h0.8M521.3 840.6h0.8M518.1 871.1h0.8M521.4 872.3h0.8M524.3 869.1h0.8M518.8 831.9h0.8M519.6 830.8h0.8M524.0 862.4h0.8M523.4 913.9h0.8M516.0 933.7h0.8M520.8 828.2h0.8M522.8 865.4h0.8M521.2 887.0h0.8M520.9 932.0h0.8M518.0 821.3h0.8M522.1 921.6h0.8M519.1 824.8h0.8M526.3 934.9h0.8M519.8 887.7h0.8M524.7 871.8h0.8M528.6 830.6h0.8M518.0 875.4h0.8M518.7 838.8h0.8M524.0 873.1h0.8M523.9 835.5h0.8M516.2 903.3h0.8M522.9 875.2h0.8M518.6 846.9h0.8M522.9 843.7h0.8M519.6 904.4h0.8M521.5 902.5h0.8M520.5 862.9h0.8M520.6 870.7h0.8M528.0 907.9h0.8M525.6 878.8h0.8M520.4 847.4h0.8M518.9 881.5h0.8M520.8 821.8h0.8M516.4 891.5h0.8M525.4 927.7h0.8M518.1 933.9h0.8M521.4 883.9h0.8M523.6 933.3h0.8M515.8 918.8h0.8M526.6 880.4h0.8M515.3 911.1h0.8M515.3 855.0h0.8M522.2 863.5h0.8M519.3 931.2h0.8M522.6 854.4h0.8M518.7 891.5h0.8M523.7 928.6h0.8M516.9 904.7h0.8M522.9 862.7h0.8M517.1 870.2h0.8M517.1 917.4h0.8M521.2 851.9h0.8M525.7 852.2h0.8M523.2 869.3h0.8M525.5 852.5h0.8M525.0 854.5h0.8M522.3 852.9h0.8M517.4 923.2h0.8M518.4 932.0h0.8M522.6 911.9h0.8M521.0 914.5h0.8M518.6 889.6h0.8M522.5 910.8h0.8M518.3 912.2h0.8M517.4 910.7h0.8M524.0 935.2h0.8M525.9 836.7h0.8M518.3 891.2h0.8M520.5 874.2h0.8M519.7 920.9h0.8M527.0 831.7h0.8M516.9 890.8h0.8M524.1 857.8h0.8M517.5 825.5h0.8M526.5 896.2h0.8M517.9 863.1h0.8M523.8 904.3h0.8M515.8 890.0h0.8M519.9 862.1h0.8M523.4 858.6h0.8M519.4 904.0h0.8M520.8 861.0h0.8M522.3 865.8h0.8M523.1 870.6h0.8M521.3 846.6h0.8M519.6 854.7h0.8M523.4 833.5h0.8M525.8 826.9h0.8M516.1 915.9h0.8M519.2 885.3h0.8M517.9 905.7h0.8M526.9 876.1h0.8M514.1 935.7h0.8M518.1 928.1h0.8M522.9 867.9h0.8M523.1 840.4h0.8M521.1 923.1h0.8M519.9 888.3h0.8M518.5 928.7h0.8M518.8 887.5h0.8M526.8 900.6h0.8M516.6 934.1h0.8M517.9 918.1h0.8M521.2 881.7h0.8M519.3 875.7h0.8M525.5 835.7h0.8M523.0 932.7h0.8M517.8 882.4h0.8M523.4 846.0h0.8M520.0 881.5h0.8M521.6 895.5h0.8M515.1 835.3h0.8M520.3 863.7h0.8M521.5 929.6h0.8M518.2 892.5h0.8M525.1 837.5h0.8M520.5 842.2h0.8M519.8 887.7h0.8M526.8 869.9h0.8M526.9 893.5h0.8M522.5 935.9h0.8M520.7 825.6h0.8M517.2 934.4h0.8M518.2 862.2h0.8M525.4 875.8h0.8M519.5 840.5h0.8M521.3 860.8h0.8M524.0 863.8h0.8M522.1 893.3h0.8M518.1 825.4h0.8M524.2 923.4h0.8M524.9 857.0h0.8M523.3 862.5h0.8M521.5 863.1h0.8M518.5 895.4h0.8M520.0 911.4h0.8M522.1 888.2h0.8M515.9 851.0h0.8M522.4 919.9h0.8M518.8 872.4h0.8M518.4 896.2h0.8M518.3 860.2h0.8M516.4 862.6h0.8M518.5 890.1h0.8M517.5 865.1h0.8M522.0 883.9h0.8M520.5 837.8h0.8M519.1 915.7h0.8M525.8 908.3h0.8M524.0 846.0h0.8M519.4 922.4h0.8M519.2 843.7h0.8M521.7 903.6h0.8M521.6 845.4h0.8M517.5 905.6h0.8M529.1 905.8h0.8M516.9 822.3h0.8M518.9 914.4h0.8M518.0 868.7h0.8M526.5 925.8h0.8M530.0 832.0h0.8M521.0 879.8h0.8M511.7 903.4h0.8M522.1 933.9h0.8M523.8 838.0h0.8M519.1 837.8h0.8M519.0 897.5h0.8M513.4 860.8h0.8M517.2 850.1h0.8M518.3 900.8h0.8M521.2 828.4h0.8M521.7 877.1h0.8M520.2 866.6h0.8M518.8 900.7h0.8M520.7 890.3h0.8M524.9 867.7h0.8M522.3 901.6h0.8M525.7 842.7h0.8M522.6 920.6h0.8M516.6 910.7h0.8M515.9 857.2h0.8M521.2 896.2h0.8M523.6 879.2h0.8M522.5 922.8h0.8M518.2 921.0h0.8M514.6 932.6h0.8M517.7 874.9h0.8M518.0 846.4h0.8M522.3 839.6h0.8M516.8 848.6h0.8M521.9 889.7h0.8M526.0 844.1h0.8M519.4 851.7h0.8M517.2 872.1h0.8M522.8 848.2h0.8M520.9 889.3h0.8M524.9 866.9h0.8M514.9 909.4h0.8M523.3 919.5h0.8M523.1 897.5h0.8M516.9 877.1h0.8M522.4 884.0h0.8M527.5 844.0h0.8M515.2 907.8h0.8M525.1 878.6h0.8M519.5 863.8h0.8M516.8 891.3h0.8M521.4 834.1h0.8M523.6 884.0h0.8M521.0 843.8h0.8M520.1 859.6h0.8M520.1 865.2h0.8M519.6 839.2h0.8M524.4 877.4h0.8M522.3 932.6h0.8M516.7 930.3h0.8M517.4 908.7h0.8M521.5 922.2h0.8M516.4 900.4h0.8M519.8 880.1h0.8M517.8 872.6h0.8M520.8 875.5h0.8M521.6 834.5h0.8M519.2 927.2h0.8M516.1 926.3h0.8M520.7 905.7h0.8M513.8 892.8h0.8M517.8 872.4h0.8M521.8 912.1h0.8M522.7 924.1h0.8M518.6 899.0h0.8M524.1 890.8h0.8M519.9 884.5h0.8M528.0 903.1h0.8M519.7 901.6h0.8M517.8 842.8h0.8M516.6 893.4h0.8M519.6 854.6h0.8M521.6 835.2h0.8M522.3 842.2h0.8M516.9 902.2h0.8M521.4 871.4h0.8M521.1 861.1h0.8M520.2 834.7h0.8M516.9 888.1h0.8M520.6 872.0h0.8M519.1 833.2h0.8M523.1 843.2h0.8M516.9 832.6h0.8M521.4 918.2h0.8M522.6 872.5h0.8M521.3 859.3h0.8M516.1 889.4h0.8M520.4 911.3h0.8M516.3 869.1h0.8M521.9 835.5h0.8M522.8 872.0h0.8M521.9 852.8h0.8M516.6 926.7h0.8M519.2 838.2h0.8M521.2 923.3h0.8M521.0 934.3h0.8M517.2 879.1h0.8M525.3 885.6h0.8M525.8 855.5h0.8M515.0 846.3h0.8M524.7 924.7h0.8M518.8 846.4h0.8M522.1 837.9h0.8M519.5 854.2h0.8M523.8 871.6h0.8M519.6 854.2h0.8M524.1 878.1h0.8M522.6 859.5h0.8M520.7 933.6h0.8M518.3 925.6h0.8M514.7 925.7h0.7M536.1 869.9h0.7M541.0 901.8h0.7M505.9 841.3h0.7M507.4 928.9h0.7M507.9 827.0h0.7M510.5 849.7h0.7M538.8 861.8h0.7M538.7 848.7h0.7M507.9 853.3h0.7M527.4 823.6h0.7M531.4 878.5h0.7M501.3 928.4h0.7M534.2 908.7h0.7M503.0 857.9h0.7M529.2 900.8h0.7M507.6 892.7h0.7M534.7 855.6h0.7M514.6 901.1h0.7M510.1 872.1h0.7M531.8 932.4h0.7M537.0 899.5h0.7M533.4 935.1h0.7M504.4 922.6h0.7M538.5 882.1h0.7M502.8 860.4h0.7M511.2 821.0h0.7M536.7 933.8h0.7M503.1 900.6h0.7M503.7 885.3h0.7M538.7 885.3h0.7M504.2 884.9h0.7M508.1 907.8h0.7M537.1 912.3h0.7M533.9 906.9h0.7M503.2 881.9h0.7M539.4 878.3h0.7M535.4 828.1h0.7M503.7 885.6h0.7M532.8 848.9h0.7M538.2 822.2h0.7M530.3 866.0h0.7M538.8 859.3h0.7M535.7 919.7h0.7M510.0 840.4h0.7M504.4 842.9h0.7M501.7 895.8h0.7M507.1 922.7h0.7M505.7 854.8h0.7M505.4 830.1h0.7M506.5 879.9h0.7M537.9 895.9h0.7M505.8 826.7h0.7M510.1 861.4h0.7M528.9 930.9h0.7M502.7 894.0h0.7M504.4 822.0h0.7M533.6 863.3h0.7M505.7 862.4h0.7M531.7 926.0h0.7M528.9 931.7h0.7M513.9 858.9h0.7M527.8 854.7h0.7M538.5 922.7h0.7M527.8 822.0h0.7M505.9 847.2h0.7M503.9 917.4h0.7M535.6 889.5h0.7M501.7 877.8h0.7M503.8 884.7h0.7M527.7 927.8h0.7M511.2 879.0h0.7M533.5 847.9h0.7M514.0 871.6h0.7M503.1 870.9h0.7M539.2 904.3h0.7M513.1 908.0h0.7M536.6 920.7h0.7M532.3 899.1h0.7M503.4 860.2h0.7M532.9 854.0h0.7M527.0 849.4h0.7M528.1 882.5h0.7M503.8 824.8h0.7M513.5 925.6h0.7M533.3 844.6h0.7M534.9 857.3h0.7M529.2 892.2h0.7M538.8 854.7h0.7M501.4 910.8h0.7M504.8 834.9h0.7M505.3 884.3h0.7M503.5 921.3h0.7M512.5 850.7h0.7M539.4 841.6h0.7M505.4 856.2h0.7M536.6 839.1h0.7M504.1 873.3h0.7M510.0 872.9h0.7M530.9 825.2h0.7M535.9 923.3h0.7M504.2 868.5h0.7M509.1 825.8h0.7M501.5 837.0h0.7M535.9 835.9h0.7M528.8 875.0h0.7M530.8 915.9h0.7M531.8 845.4h0.7M509.5 842.5h0.7M531.2 839.9h0.7M535.2 892.4h0.7M533.0 933.0h0.7M502.7 919.5h0.7M531.2 904.4h0.7M507.1 900.6h0.7M540.1 908.7h0.7M504.0 830.1h0.7M504.3 831.2h0.7M513.2 884.9h0.7M505.8 930.2h0.7M508.0 908.9h0.7M535.0 867.8h0.7M509.4 869.2h0.7M527.3 847.4h0.7M533.4 830.1h0.7M514.4 874.7h0.7M510.6 859.2h0.7M513.2 930.3h0.7M513.8 881.2h0.7M528.1 916.5h0.7M510.1 826.1h0.7M529.6 835.5h0.7M535.8 914.2h0.7M537.9 861.1h0.7M503.5 884.1h0.7M512.1 876.6h0.7M534.3 907.2h0.7M506.8 889.4h0.7M533.9 884.8h0.7M540.6 889.3h0.7M539.7 862.2h0.7M506.0 919.5h0.7M504.6 870.3h0.7M512.0 899.3h0.7M509.5 855.0h0.7M540.9 927.6h0.7M503.9 925.6h0.7M535.0 822.5h0.7M508.6 841.1h0.7M540.7 852.0h0.7M538.6 892.5h0.7M527.9 884.6h0.7M529.2 923.8h0.7M532.7 836.9h0.7M503.8 927.4h0.7M536.1 867.0h0.7M534.4 905.4h0.7M512.9 915.0h0.7M510.9 890.3h0.7M507.8 841.1h0.7" stroke="#333" stroke-width="0.8"/>
<g opacity="1">
<path d="M884 1016C873 1016 866 1023 866 1031C866 1036 869 1040 873 1043L871 1048L877 1045C879 1046 882 1046 884 1046" fill="#fdfdfd" stroke="#c8c8c8" stroke-width="2.2"/>
<ellipse cx="883" cy="1031" rx="17" ry="14.5" fill="#fdfdfd" stroke="#c8c8c8" stroke-width="2.2"/>
<ellipse cx="893.5" cy="1036.5" rx="13.5" ry="11.5" fill="#fdfdfd" stroke="#c8c8c8" stroke-width="2.2"/>
<path d="M901 1046L906 1049L905 1043" fill="#fdfdfd" stroke="#c8c8c8" stroke-width="2"/>
<circle cx="877" cy="1024" r="1.8" fill="#c8c8c8"/><circle cx="887" cy="1024" r="1.8" fill="#c8c8c8"/><circle cx="889" cy="1032" r="1.6" fill="#c8c8c8"/><circle cx="898" cy="1032" r="1.6" fill="#c8c8c8"/>
</g>

<g id="hleft"><use href="#htop"/><use href="#harms"/><path d="M620 538.9C621.3 543.1 625.9 556.4 627.8 564.4C629.6 572.4 631.1 577.4 631.1 586.7C631.1 596 629.8 608.9 627.8 620C625.8 631.1 620.8 642.2 618.9 653.3C617 664.4 616 675.6 616.7 686.7C617.4 697.8 620.9 708.1 623.3 720C625.7 731.9 629.8 751.5 631.1 757.8" fill="none" stroke="#1a1a1a" stroke-width="2"/>
<path d="M743.3 538.9C741.8 543.9 736.2 560.9 734.4 568.9C732.5 576.9 732 578.2 732.2 586.7C732.4 595.2 733.8 608.9 735.6 620C737.5 631.1 741.6 642.2 743.3 653.3C745 664.4 746.3 674.1 745.6 686.7C744.9 699.3 740 721.9 738.9 728.9" fill="none" stroke="#1a1a1a" stroke-width="2"/>
<path d="M681.1 691.1C680.9 695.9 680.4 710 680 720C679.6 730 679.1 745.9 678.9 751.1" fill="none" stroke="#1a1a1a" stroke-width="2"/>
<path d="M681.1 691.1C681.6 695.9 683.1 710 684 720C684.9 730 686.2 745.9 686.7 751.1" fill="none" stroke="#1a1a1a" stroke-width="2"/></g>
<g transform="translate(412.9 -130.5) scale(0.845)"><use href="#htop"/><use href="#harms"/></g>
<path d="M272.0 315.0Q322.3 289.5 382.9 281.5" stroke="#05059a" stroke-width="8" fill="none"/><path d="M382.3 289.6L395.5 280.0L380.5 273.7Z" fill="#05059a"/>
<path d="M281.0 341.0Q332.5 320.0 388.2 312.0" stroke="#f40a0a" stroke-width="8" fill="none"/><path d="M387.7 320.1L400.7 310.4L385.7 304.3Z" fill="#f40a0a"/>
<path d="M297.5 912.5Q115.6 838.3 99.8 690.8" stroke="#05059a" stroke-width="8.5" fill="none"/><path d="M107.9 691.6L98.8 678.0L91.9 692.9Z" fill="#05059a"/>
<path d="M300.5 870.5Q152.3 801.2 135.2 688.8" stroke="#f40a0a" stroke-width="8.5" fill="none"/><path d="M143.3 689.4L133.8 676.0L127.4 691.2Z" fill="#f40a0a"/>
<path d="M544.0 341.4Q571.2 355.2 606.2 384.9" stroke="#05059a" stroke-width="8.5" fill="none"/><path d="M599.1 390.7L617.2 394.5L611.0 377.1Z" fill="#05059a"/>
<path d="M677.9 718.8Q663.1 768.6 610.9 813.2" stroke="#05059a" stroke-width="9" fill="none"/><path d="M606.0 804.9L599.4 822.5L618.0 819.6Z" fill="#05059a"/>
<path d="M91.7 593C92.4 586.4 93.6 566.6 95.8 553.3C98 540 101 526.3 105 513.3C109 500.2 115 486.7 120 475C125 463.3 132.2 449.2 135 443.3C137.8 437.4 136.6 440.2 136.9 439.6" stroke="#05059a" stroke-width="8.5" fill="none"/><path d="M142.9 445.1L143.6 429.0L129.4 436.5Z" fill="#05059a"/>
<path d="M122.5 593C122.9 586.4 123.2 565.5 125 553.3C126.8 541.1 130.2 529.7 133.3 520C136.4 510.3 141 500.6 143.3 495C145.6 489.4 146.6 487.7 147.3 486.3" stroke="#f40a0a" stroke-width="8.5" fill="none"/><path d="M153.4 490.9L152.7 475.0L139.9 484.4Z" fill="#f40a0a"/>
<path d="M856.5 262C857.8 259.5 860.9 251.5 864 247.2C867.1 242.9 870.4 239.6 875 236.1C879.6 232.6 885.5 229.4 891.7 226.4C898 223.4 906.5 221.3 912.5 218.1C918.5 214.8 924 210.8 927.8 206.9C931.6 203 934 196.8 935.2 194.8" stroke="#d41515" stroke-width="5" fill="none"/><path d="M940.8 200.0L941.0 185.4L928.1 192.1Z" fill="#d41515"/>
<path d="M856.5 262C858.2 260.5 862 256.4 866.7 252.8C871.4 249.2 877.8 244 884.7 240.3C891.6 236.6 900.2 233.2 908.3 230.6C916.4 228 925.4 227.3 933.3 225C941.2 222.7 948.6 220.4 955.6 216.7C962.6 213 970.3 206.7 975 202.8C979.7 198.9 982.4 194.8 983.9 193.1" stroke="#d41515" stroke-width="5" fill="none"/><path d="M988.1 199.5L991.7 185.4L977.5 188.9Z" fill="#d41515"/>
<path d="M856.5 262C858.9 261.5 865.9 259.3 870.8 259C875.7 258.7 881.5 259.3 886.1 260.4C890.7 261.4 895.6 263.9 898.6 265.3C901.6 266.7 903 268 903.8 268.5" stroke="#d41515" stroke-width="5" fill="none"/><path d="M898.6 274.1L913.2 274.3L906.5 261.3Z" fill="#d41515"/>
<path d="M579.0 240.5C629.3 139.5 775.8 133.5 855.5 203.5" stroke="#05059a" stroke-width="8.2" fill="none"/><path d="M848.1 208.9L866.0 213.7L860.7 196.0Z" fill="#05059a"/>

</svg>
<div id="title">猪带绦虫囊尾蚴病</div>
<div id="en">Cysticercosis</div>
<div id="sp">(Taenia spp.)</div>
<div class="t" style="left:367.5px;top:203.7px;">癌球在猪或人的肌肉<br>中发展为囊尾蚴</div>
<div class="t" style="left:687px;top:175.2px;font-size:23px;letter-spacing:1.3px;">囊尾蚴病</div>
<div class="t" style="left:623px;top:203.7px;">囊尾蚴病可发生于任<br>何器官，多见于皮下。<br>还有大脑和眼睛里的<br>组织。</div>
<div class="t" style="left:105px;top:292.2px;">癌球孵化，穿透<br>肠壁，并循环到<br>猪或人的肌肉组织</div>
<div class="t" style="left:384px;top:360.7px;">人类通过摄入而<br>感染生的或未煮<br>熟的受感染动物宿主的肉。</div>
<div class="t" style="left:75px;top:607.7px;">被猪或人摄入的<br>胚胎卵和<span style="font-weight:400">/</span>或孕胚</div>
<div class="t" style="left:754px;top:659.7px;">头节附着在肠上</div>
<div class="t" style="left:699px;top:883.7px;">成人小肠</div>
<div class="t" style="left:310px;top:959.7px;">粪便中的卵或孕胚进入环境</div>
<div class="t" style="left:74px;top:946.2px;font-size:17.8px;letter-spacing:1px;"><span style="font-weight:400">=</span> 感染性阶段</div>
<div class="t" style="left:74px;top:976.2px;font-size:17.8px;letter-spacing:1px;"><span style="font-weight:400">=</span> 诊断阶段</div>
<div class="t" style="left:897px;top:944.7px;font-size:18px;letter-spacing:2px;">人类</div>
<div class="t" style="left:897px;top:978.7px;font-size:18px;letter-spacing:0;">猪</div>
<div style="position:absolute;left:911px;top:1013.5px;font-size:26.5px;line-height:36px;color:#fdfdfd;white-space:nowrap;text-shadow:0 0 1px #aaa,1px 1px 1px #bbb;">地球知识局</div>

</body></html>
